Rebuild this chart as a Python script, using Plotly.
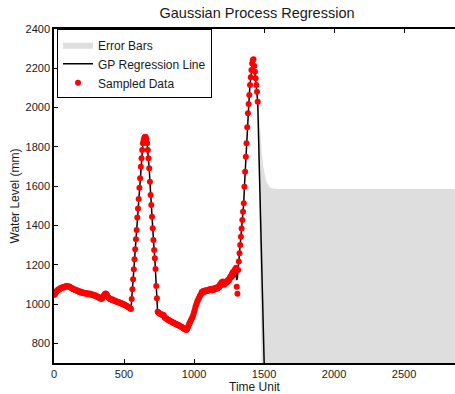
import plotly.graph_objects as go

# ---------------------------------------------------------------------------
# Observed water level, one reading every SAMPLE_STEP time units from t = 0.
# Each row holds ten readings (50 time units).
# ---------------------------------------------------------------------------
SAMPLE_STEP = 5
water_level = [
    1046, 1050, 1055, 1062, 1068, 1070, 1074, 1072, 1078, 1080,   # 0-45
    1082, 1081, 1085, 1086, 1084, 1088, 1090, 1089, 1092, 1090,   # 50-95
    1091, 1088, 1089, 1085, 1084, 1080, 1081, 1077, 1075, 1076,   # 100-145
    1072, 1070, 1071, 1066, 1068, 1064, 1062, 1065, 1060, 1058,   # 150-195
    1061, 1057, 1055, 1058, 1054, 1056, 1052, 1055, 1053, 1050,   # 200-245
    1054, 1051, 1052, 1048, 1050, 1046, 1048, 1044, 1045, 1041,   # 250-295
    1043, 1038, 1036, 1037, 1033, 1030, 1032, 1028, 1026, 1030,   # 300-345
    1036, 1042, 1048, 1052, 1054, 1050, 1044, 1036, 1032, 1028,   # 350-395
    1026, 1025, 1022, 1024, 1020, 1018, 1019, 1015, 1016, 1012,   # 400-445
    1013, 1010, 1011, 1007, 1008, 1004, 1005, 1001, 1000, 998,    # 450-495
    999, 995, 994, 991, 990, 987, 985, 983, 980, 978,             # 500-545
    975, 1026, 1075, 1126, 1177, 1228, 1279, 1330, 1377, 1440,    # 550-595
    1487, 1535, 1592, 1640, 1699, 1742, 1784, 1818, 1835, 1846,   # 600-645
    1852, 1850, 1840, 1818, 1784, 1742, 1691, 1623, 1555, 1504,   # 650-695
    1445, 1386, 1326, 1275, 1233, 1178, 1092, 1029, 961, 958,     # 700-745
    955, 952, 950, 948, 946, 944, 945, 940, 932, 930,             # 750-795
    926, 925, 922, 920, 918, 916, 912, 913, 910, 908,             # 800-845
    905, 906, 902, 900, 898, 899, 895, 892, 893, 890,             # 850-895
    888, 886, 884, 882, 880, 876, 874, 872, 870, 868,             # 900-945
    872, 880, 890, 898, 905, 912, 920, 928, 935, 945,             # 950-995
    958, 970, 985, 995, 1005, 1015, 1022, 1030, 1038, 1045,       # 1000-1045
    1050, 1062, 1058, 1066, 1060, 1068, 1064, 1070, 1066, 1072,   # 1050-1095
    1068, 1074, 1070, 1075, 1072, 1078, 1070, 1076, 1072, 1080,   # 1100-1145
    1075, 1082, 1078, 1085, 1080, 1090, 1085, 1100, 1095, 1110,   # 1150-1195
    1102, 1115, 1105, 1098, 1104, 1112, 1108, 1118, 1114, 1125,   # 1200-1245
    1120, 1132, 1140, 1135, 1150, 1160, 1145, 1165, 1175, 1168,   # 1250-1295
    1185, 1088, 1052, 1173, 1216, 1258, 1300, 1343, 1385, 1428,   # 1300-1345
    1470, 1513, 1597, 1674, 1750, 1818, 1900, 1971, 2018, 2064,   # 1350-1395
    2115, 2154, 2191, 2225, 2242, 2246, 2212, 2183, 2149, 2115,   # 1400-1445
    2081, 2030,                                                   # 1450-1455
]
time_unit = [i * SAMPLE_STEP for i in range(len(water_level))]

# ---------------------------------------------------------------------------
# GP posterior mean (regression line)
# ---------------------------------------------------------------------------
gp_time = [
    0, 25, 50, 75, 100, 125, 150, 175, 200, 225, 250, 275, 300, 325, 340,
    355, 370, 385, 400, 425, 450, 475, 500, 525, 550,
    555, 560, 565, 570, 575, 580, 585, 590, 595, 600, 605, 610, 615, 620,
    625, 630, 635, 640, 645, 650, 655, 660, 665, 670, 675, 680, 685, 690,
    695, 700, 705, 710, 715, 720, 725, 730, 735, 740,
    750, 770, 790, 815, 840, 865, 890, 915, 945, 960, 980, 1000, 1020, 1040,
    1060, 1080, 1100, 1125, 1150, 1175, 1200, 1225, 1250, 1270, 1290, 1300,
    1305, 1310,
    1315, 1320, 1325, 1330, 1335, 1340, 1345, 1350, 1355, 1360, 1365, 1370,
    1375, 1380, 1385, 1390, 1395, 1400, 1405, 1410, 1415, 1420, 1425, 1430,
    1435, 1440, 1445, 1450, 1455,
    1465, 1475, 1485, 1495, 1505, 1515, 1525, 1540, 1560, 1600, 1700, 1800,
    1900, 2000, 2100, 2200, 2300, 2400, 2500, 2600, 2700, 2800, 2900,
]
gp_mean = [
    1048, 1070, 1081, 1087, 1090, 1081, 1072, 1066, 1059, 1055, 1052, 1047,
    1042, 1031, 1027, 1040, 1053, 1038, 1026, 1018, 1012, 1005, 998, 987, 976,
    1026, 1075, 1126, 1177, 1228, 1279, 1330, 1377, 1440, 1487, 1535, 1592,
    1640, 1699, 1742, 1784, 1818, 1835, 1846, 1852, 1850, 1840, 1818, 1784,
    1742, 1691, 1623, 1555, 1504, 1445, 1386, 1326, 1275, 1233, 1178, 1092,
    1029, 961,
    955, 946, 933, 920, 910, 900, 892, 882, 869, 888, 920, 958, 1005, 1037,
    1060, 1066, 1070, 1074, 1078, 1087, 1104, 1108, 1122, 1145, 1168, 1170,
    1122, 1135,
    1173, 1216, 1258, 1300, 1343, 1385, 1428, 1470, 1513, 1597, 1674, 1750,
    1818, 1900, 1971, 2018, 2064, 2115, 2154, 2191, 2225, 2242, 2246, 2212,
    2183, 2149, 2115, 2081, 2030,
    1735, 1440, 1145, 850, 550, 300, 130, 30, 0, 0, 0, 0,
    0, 0, 0, 0, 0, 0, 0, 0, 0, 0, 0,
]

# ---------------------------------------------------------------------------
# Confidence band (upper / lower bound) beyond the last observation
# ---------------------------------------------------------------------------
band_time = [
    1455, 1465, 1475, 1485, 1495, 1505, 1515, 1525, 1540, 1560, 1600, 1700,
    1800, 1900, 2000, 2100, 2200, 2300, 2400, 2500, 2600, 2700, 2800, 2900,
]
band_upper = [
    2060, 1960, 1840, 1762, 1699, 1650, 1625, 1612, 1595, 1588, 1586, 1586,
    1586, 1586, 1586, 1586, 1586, 1586, 1586, 1586, 1586, 1586, 1586, 1586,
]
band_lower = [
    2000, 1510, 1040, 530, 0, -545, -1025, -1350, -1565, -1588, -1586, -1586,
    -1586, -1586, -1586, -1586, -1586, -1586, -1586, -1586, -1586, -1586,
    -1586, -1586,
]

x_ticks = [0, 500, 1000, 1500, 2000, 2500]
y_ticks = [800, 1000, 1200, 1400, 1600, 1800, 2000, 2200, 2400]

FONT = "Liberation Sans, Arial, Helvetica, sans-serif"
INK = "#1a1a1a"

fig = go.Figure()

fig.add_trace(go.Scatter(
    x=band_time + band_time[::-1],
    y=band_upper + band_lower[::-1],
    fill="toself",
    fillcolor="#dedede",
    line=dict(width=0, color="#dedede"),
    mode="lines",
    name="Error Bars",
    hoverinfo="skip",
))

fig.add_trace(go.Scatter(
    x=gp_time,
    y=gp_mean,
    mode="lines",
    line=dict(color="black", width=1.5),
    name="GP Regression Line",
))

fig.add_trace(go.Scatter(
    x=time_unit,
    y=water_level,
    mode="markers",
    marker=dict(color="#ff0000", size=6, line=dict(width=0)),
    name="Sampled Data",
))

fig.update_layout(
    width=455,
    height=394,
    margin=dict(l=54, r=0, t=29, b=31),
    paper_bgcolor="white",
    plot_bgcolor="white",
    font=dict(family=FONT, size=11, color=INK),
    title=dict(
        text="Gaussian Process Regression",
        font=dict(size=14.5, color=INK),
        x=257 / 455, xanchor="center", xref="container",
        y=1 - 12.5 / 394, yanchor="middle", yref="container",
    ),
    showlegend=True,
    legend=dict(
        x=0.0075, y=0.999, xanchor="left", yanchor="top",
        bgcolor="white", bordercolor="black", borderwidth=1,
        font=dict(size=12, color=INK),
        tracegroupgap=0, itemsizing="trace",
    ),
    xaxis=dict(
        range=[0, 2864],
        tickvals=x_ticks,
        ticks="inside", ticklen=4, tickcolor="black", tickwidth=1,
        showline=True, linecolor="black", linewidth=1.5,
        mirror="ticks",
        showgrid=False, zeroline=False,
        layer="below traces",
        title=dict(text="Time Unit", font=dict(size=12, color=INK), standoff=2),
        tickfont=dict(size=11, color=INK),
    ),
    yaxis=dict(
        range=[700, 2400],
        tickvals=y_ticks,
        ticks="inside", ticklen=4, tickcolor="black", tickwidth=1,
        showline=True, linecolor="black", linewidth=1.5,
        showgrid=False, zeroline=False,
        layer="below traces",
        title=dict(text="Water Level (mm)", font=dict(size=12, color=INK), standoff=3),
        tickfont=dict(size=11, color=INK),
    ),
)

fig.write_html("out.html")
